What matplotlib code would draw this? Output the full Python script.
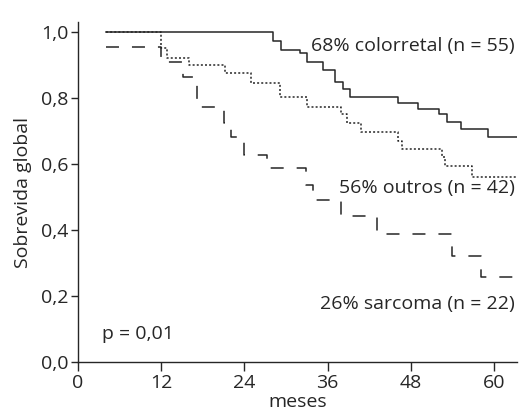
import numpy as np
import matplotlib
matplotlib.use('Agg')
import matplotlib.pyplot as plt
from matplotlib.ticker import FuncFormatter

# Kaplan-Meier step curves (time in months, survival)
colorretal_t = [4, 28.2, 29.3, 32.0, 33.0, 35.4, 37.1, 38.2, 39.2, 46.1, 49.1, 52.1, 53.2, 55.2, 59.2, 63.3]
colorretal_s = [1.0, 0.974, 0.946, 0.935, 0.910, 0.885, 0.847, 0.826, 0.802, 0.786, 0.767, 0.751, 0.728, 0.706, 0.683, 0.683]

outros_t = [4, 12.0, 12.8, 16.0, 21.2, 24.9, 29.2, 33.0, 37.9, 38.8, 40.8, 46.2, 46.8, 52.5, 53.0, 56.8, 63.3]
outros_s = [1.0, 0.950, 0.922, 0.900, 0.877, 0.845, 0.804, 0.774, 0.750, 0.723, 0.697, 0.670, 0.645, 0.620, 0.595, 0.562, 0.562]

sarcoma_t = [4, 12.0, 15.2, 17.1, 21.0, 22.0, 24.0, 27.3, 32.9, 33.9, 38.0, 43.1, 53.9, 58.1, 63.3]
sarcoma_s = [0.955, 0.910, 0.865, 0.772, 0.723, 0.683, 0.627, 0.587, 0.536, 0.491, 0.442, 0.388, 0.321, 0.257, 0.257]

labels = ["68% colorretal (n = 55)", "56% outros (n = 42)", "26% sarcoma (n = 22)"]
p_text = "p = 0,01"
x_ticks = [0, 12, 24, 36, 48, 60]
y_ticks = [0.0, 0.2, 0.4, 0.6, 0.8, 1.0]

plt.rcParams['font.family'] = ['Open Sans', 'DejaVu Sans']
plt.rcParams['font.size'] = 14

ink = "#262626"

fig = plt.figure(figsize=(5.21, 4.13), dpi=100)
ax = fig.add_axes([0.1497, 0.1235, 0.8423, 0.823])

ax.step(colorretal_t, colorretal_s, where="post", color=ink, lw=1.1)
ax.step(outros_t, outros_s, where="post", color=ink, lw=1.1, linestyle=(0, (1.3, 1.4)))
ax.step(sarcoma_t, sarcoma_s, where="post", color=ink, lw=1.1, linestyle=(0, (8.5, 8.5)))

ax.text(63.0, 0.958, labels[0], ha="right", va="center", color=ink)
ax.text(63.0, 0.527, labels[1], ha="right", va="center", color=ink)
ax.text(63.0, 0.176, labels[2], ha="right", va="center", color=ink)
ax.text(3.4, 0.085, p_text, ha="left", va="center", color=ink)

ax.set_xlim(0, 63.3)
ax.set_ylim(0, 1.03)
ax.set_xticks(x_ticks)
ax.set_yticks(y_ticks)
ax.yaxis.set_major_formatter(FuncFormatter(lambda v, pos: f"{v:.1f}".replace(".", ",")))

for side in ["top", "right"]:
    ax.spines[side].set_visible(False)
for side in ["left", "bottom"]:
    ax.spines[side].set_linewidth(1.0)
    ax.spines[side].set_color(ink)
ax.tick_params(axis="x", direction="out", length=6.5, width=1.0, color=ink, labelcolor=ink, pad=2)
ax.tick_params(axis="y", direction="out", length=5, width=1.0, color=ink, labelcolor=ink, pad=2)

ax.set_xlabel("meses", color=ink, labelpad=1)
ax.set_ylabel("Sobrevida global", color=ink, labelpad=6)

fig.savefig("out.png", dpi=100)
